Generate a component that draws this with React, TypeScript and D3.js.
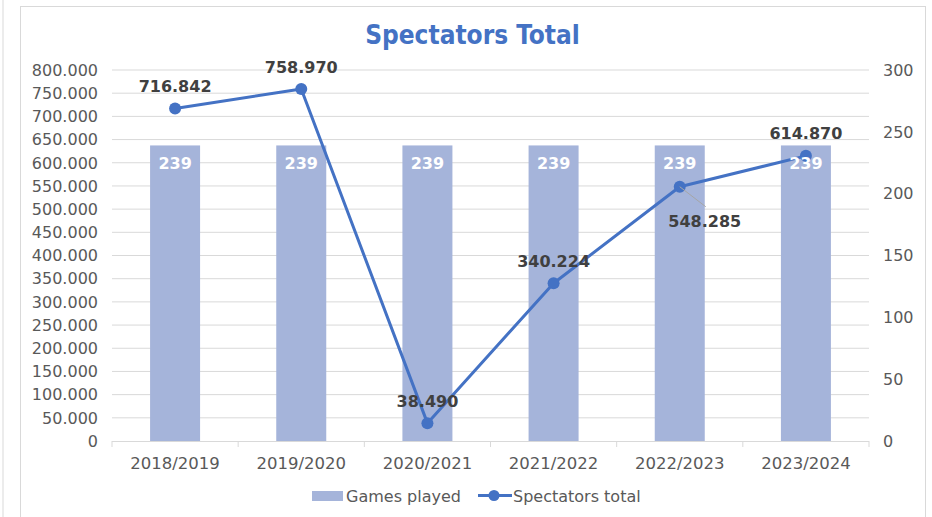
import React from "react";
import * as d3 from "d3";

const seasons = ["2018/2019", "2019/2020", "2020/2021", "2021/2022", "2022/2023", "2023/2024"];
const gamesPlayed = [239, 239, 239, 239, 239, 239];
const spectators = [716842, 758970, 38490, 340224, 548285, 614870];
const leftTicks = d3.range(0, 800001, 50000);
const rightTicks = [0, 50, 100, 150, 200, 250, 300];

const W = 932, H = 517;
const M = { left: 112, right: 869, top: 70, bottom: 441 };
const FONT = "'DejaVu Sans', sans-serif";
const COND = "'DejaVu Sans Condensed', 'DejaVu Sans', sans-serif";

const fmt = (v: number) => {
  if (v === 0) return "0";
  const s = d3.format(",")(v);
  return s.replace(/,/g, ".");
};

export default function App() {
  const xb = d3.scaleBand<string>().domain(seasons).range([M.left, M.right]);
  const yL = d3.scaleLinear().domain([0, 800000]).range([M.bottom, M.top]);
  const yR = d3.scaleLinear().domain([0, 300]).range([M.bottom, M.top]);
  const cx = (s: string) => (xb(s) as number) + xb.bandwidth() / 2;
  const line = d3.line<number>().x((_, i) => cx(seasons[i])).y((v) => yL(v));
  const blue = "#4472C4";
  const barColor = "#A5B4DA";

  return (
    <svg width={W} height={H} style={{ position: "absolute", left: 0, top: 0, background: "#fff" }}>
      <line x1={3} x2={3} y1={0} y2={H} stroke="#d9d9d9" strokeWidth={1} />
      <rect x={20.5} y={6.5} width={905} height={H} fill="#fff" stroke="#d9d9d9" strokeWidth={1} />
      <text x={472.5} y={44} textAnchor="middle" fontFamily={COND} fontWeight="bold" fontSize={26} fill={blue}>
        Spectators Total
      </text>
      {leftTicks.map((t) => (
        <g key={t}>
          {t > 0 && <line x1={M.left} x2={M.right} y1={yL(t)} y2={yL(t)} stroke="#d9d9d9" strokeWidth={1} />}
          <text x={98} y={yL(t)} dy="0.36em" textAnchor="end" fontFamily={FONT} fontSize={16} fill="#595959">
            {fmt(t)}
          </text>
        </g>
      ))}
      {rightTicks.map((t) => (
        <text key={t} x={883} y={yR(t)} dy="0.36em" textAnchor="start" fontFamily={FONT} fontSize={16} fill="#595959">
          {t}
        </text>
      ))}
      {gamesPlayed.map((v, i) => (
        <rect key={i} x={cx(seasons[i]) - 25} width={50} y={yR(v)} height={M.bottom - yR(v)} fill={barColor} />
      ))}
      <line x1={M.left} x2={M.right} y1={M.bottom + 0.5} y2={M.bottom + 0.5} stroke="#d9d9d9" strokeWidth={1} />
      {d3.range(seasons.length + 1).map((i) => (
        <line key={i} x1={M.left + i * xb.bandwidth()} x2={M.left + i * xb.bandwidth()} y1={M.bottom} y2={M.bottom + 6} stroke="#d9d9d9" />
      ))}
      {seasons.map((s) => (
        <text key={s} x={cx(s)} y={469} textAnchor="middle" fontFamily={FONT} fontSize={16.5} fill="#595959">
          {s}
        </text>
      ))}
      <path d={line(spectators) as string} fill="none" stroke={blue} strokeWidth={3} strokeLinejoin="round" />
      {spectators.map((v, i) => (
        <circle key={i} cx={cx(seasons[i])} cy={yL(v)} r={6} fill={blue} />
      ))}
      {gamesPlayed.map((v, i) => (
        <text key={i} x={cx(seasons[i])} y={yR(v) + 24} textAnchor="middle" fontFamily={FONT} fontWeight="bold" fontSize={16} fill="#fff">
          {v}
        </text>
      ))}
      {spectators.map((v, i) => {
        const px = cx(seasons[i]);
        const py = yL(v);
        if (i === 4) {
          return (
            <g key={i}>
              <line x1={px} y1={py} x2={px + 26} y2={py + 20} stroke="#a6a6a6" strokeWidth={1} />
              <text x={px + 25} y={py + 40} textAnchor="middle" fontFamily={FONT} fontWeight="bold" fontSize={16} fill="#404040">
                {fmt(v)}
              </text>
            </g>
          );
        }
        return (
          <text key={i} x={px} y={py - 16.5} textAnchor="middle" fontFamily={FONT} fontWeight="bold" fontSize={16} fill="#404040">
            {fmt(v)}
          </text>
        );
      })}
      <rect x={312} y={491} width={31} height={10} fill={barColor} />
      <text x={346} y={502} fontFamily={FONT} fontSize={16} fill="#595959">Games played</text>
      <line x1={478} x2={512} y1={495.5} y2={495.5} stroke={blue} strokeWidth={3} />
      <circle cx={494} cy={495.5} r={5.5} fill={blue} />
      <text x={513} y={502} fontFamily={FONT} fontSize={16} fill="#595959">Spectators total</text>
    </svg>
  );
}
